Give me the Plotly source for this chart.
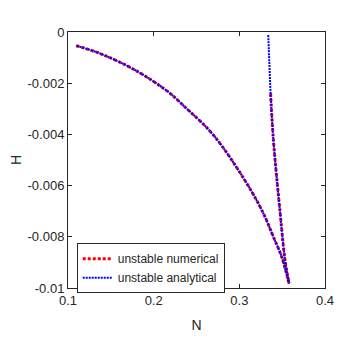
import plotly.graph_objects as go

# left branch (both series)
N_left = [0.1097, 0.1389, 0.1779, 0.2167, 0.2362, 0.2696, 0.3086, 0.3280, 0.3397,
          0.3494, 0.3580]
H_left = [-0.000535, -0.00086, -0.00148, -0.00233, -0.00292, -0.00402, -0.00591,
          -0.00708, -0.00800, -0.00878, -0.00982]

# right branch, analytical
N_right_a = [0.3338, 0.3350, 0.3366, 0.3396, 0.3475, 0.3533, 0.3580]
H_right_a = [-0.00012, -0.00120, -0.00246, -0.00415, -0.00702, -0.00890, -0.00982]

# right branch, numerical (starts lower)
N_right_n = [0.3365, 0.3396, 0.3475, 0.3533, 0.3580]
H_right_n = [-0.00240, -0.00415, -0.00702, -0.00890, -0.00982]

x_ticks = [0.1, 0.2, 0.3, 0.4]
x_labels = ["0.1", "0.2", "0.3", "0.4"]
y_ticks = [0, -0.002, -0.004, -0.006, -0.008, -0.01]
y_labels = ["0", "-0.002", "-0.004", "-0.006", "-0.008", "-0.01"]

FONT = "Liberation Sans, Arial, sans-serif"
AX = "#262626"
RED = dict(color="red", width=3, dash="3px,2px")
BLUE = dict(color="blue", width=2, dash="2px,1px")

fig = go.Figure()
fig.add_trace(go.Scatter(x=N_left, y=H_left, mode="lines", name="unstable numerical",
                         line=RED, line_shape="spline", legendgroup="n"))
fig.add_trace(go.Scatter(x=N_right_n, y=H_right_n, mode="lines", showlegend=False,
                         line=RED, line_shape="spline", legendgroup="n"))
fig.add_trace(go.Scatter(x=N_left, y=H_left, mode="lines", name="unstable analytical",
                         line=BLUE, line_shape="spline", legendgroup="a"))
fig.add_trace(go.Scatter(x=N_right_a, y=H_right_a, mode="lines", showlegend=False,
                         line=BLUE, line_shape="spline", legendgroup="a"))

axis_common = dict(showgrid=False, zeroline=False, showline=True, mirror="ticks",
                   linecolor=AX, linewidth=1, ticks="inside", ticklen=4,
                   tickcolor=AX, automargin=False,
                   tickfont=dict(family=FONT, size=13, color=AX))

# page body has an 8px margin, so the figure is a bit smaller than the window
fig.update_layout(
    width=352, height=333,
    margin=dict(l=60, r=35, t=24, b=53),
    paper_bgcolor="white", plot_bgcolor="white",
    font=dict(family=FONT, color=AX),
    xaxis=dict(range=[0.1, 0.4], tickvals=x_ticks, ticktext=x_labels,
               title=dict(text="N", font=dict(size=14), standoff=13), **axis_common),
    yaxis=dict(range=[-0.01, 0], tickvals=y_ticks, ticktext=y_labels,
               title=dict(text="H", font=dict(size=14), standoff=6), **axis_common),
    legend=dict(x=0.034, y=0.175, xanchor="left", yanchor="top",
                bordercolor=AX, borderwidth=1, bgcolor="white",
                font=dict(family=FONT, size=12, color=AX),
                tracegroupgap=0, itemwidth=30),
    showlegend=True,
)

fig.write_html("out.html")
